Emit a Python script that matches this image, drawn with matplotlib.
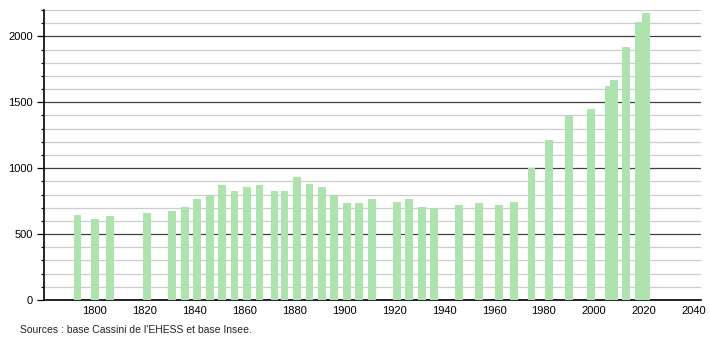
import matplotlib
matplotlib.use("Agg")
import matplotlib.pyplot as plt
from matplotlib.ticker import MultipleLocator

YEARS = [1793, 1800, 1806, 1821, 1831, 1836, 1841, 1846, 1851, 1856,
         1861, 1866, 1872, 1876, 1881, 1886, 1891, 1896, 1901, 1906,
         1911, 1921, 1926, 1931, 1936, 1946, 1954, 1962, 1968, 1975,
         1982, 1990, 1999, 2006, 2008, 2013, 2018, 2021]
POPULATION = [646, 611, 641, 659, 677, 707, 768, 796, 875, 829,
              854, 875, 824, 829, 935, 882, 854, 796, 738, 735,
              763, 745, 766, 707, 694, 722, 735, 722, 745, 998,
              1217, 1399, 1452, 1627, 1668, 1921, 2111, 2180]
XTICKS = list(range(1800, 2041, 20))
SOURCE = "Sources : base Cassini de l'EHESS et base Insee."

BAR_COLOR = "#ade3ad"
MAJOR_GRID = "#404040"
MINOR_GRID = "#cccccc"


def main():
    plt.rcParams["font.family"] = ["Liberation Sans", "DejaVu Sans"]
    fig = plt.figure(figsize=(7.1, 3.4), dpi=100)
    ax = fig.add_axes([0.062, 0.1176, 0.925, 0.853])

    ax.bar(YEARS, POPULATION, width=3.1, color=BAR_COLOR, zorder=3)

    ax.set_xlim(1779.6, 2042.9)
    ax.set_ylim(0, 2200)
    ax.yaxis.set_major_locator(MultipleLocator(500))
    ax.yaxis.set_minor_locator(MultipleLocator(100))
    ax.grid(axis="y", which="minor", color=MINOR_GRID, linewidth=0.9, zorder=1)
    ax.grid(axis="y", which="major", color=MAJOR_GRID, linewidth=0.9, zorder=2)
    ax.set_axisbelow(True)

    ax.set_xticks(XTICKS)
    ax.set_xticklabels([str(x) for x in XTICKS], fontsize=8)
    ax.tick_params(axis="x", length=0, pad=4)
    ax.tick_params(axis="y", which="major", length=5, width=0.9, labelsize=8, pad=3)
    ax.tick_params(axis="y", which="minor", length=2, width=0.9)

    for side in ["top", "right"]:
        ax.spines[side].set_visible(False)
    ax.spines["left"].set_linewidth(1.2)
    ax.spines["bottom"].set_linewidth(1.2)

    fig.text(20 / 710, 1 - 330 / 340, SOURCE, fontsize=7.5, va="center", color="#222222")

    fig.savefig("out.png", dpi=100)
    plt.close(fig)


if __name__ == "__main__":
    main()
